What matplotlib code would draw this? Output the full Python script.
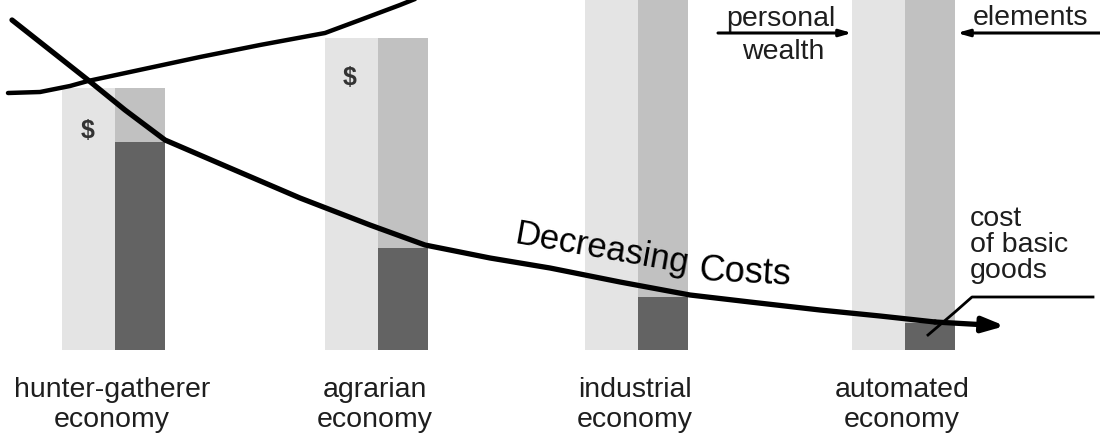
import matplotlib
matplotlib.use("Agg")
import matplotlib.pyplot as plt

plt.rcParams['font.family'] = ['Liberation Sans', 'DejaVu Sans']

# ---- data (values measured upward from the bar baseline) ----
categories = ["hunter-gatherer\neconomy", "agrarian\neconomy", "industrial\neconomy", "automated\neconomy"]
positions = [115, 378, 638, 905]
personal_wealth = [262, 312, 420, 420]      # light bar height
total_elements = [262, 312, 420, 420]       # medium bar height
basic_goods_cost = [208, 102, 53, 27]       # dark bar height

cost_x = [12, 50, 88, 125, 165, 230, 300, 370, 425, 490, 550, 620, 690, 750, 820, 880, 935]
cost_y = [330, 300, 270, 240, 210, 182, 152, 125, 105, 92, 82, 68, 55, 48, 40, 34, 28]
cost_arrow_end = (1005, 24)

rise_x = [8, 40, 70, 88, 130, 200, 260, 325, 360, 400, 425]
rise_y = [257, 258, 264, 269, 278, 293, 305, 317, 330, 345, 355]

fig = plt.figure(figsize=(11, 4.38), dpi=100)
ax = fig.add_axes([0, 0, 1, 1])
ax.set_xlim(0, 1100)
ax.set_ylim(-88, 350)
ax.axis('off')

light = '#e4e4e4'
mid = '#c1c1c1'
dark = '#636363'
txt = '#1e1e1e'
w = 50
wl = 53

for p, lw_, te, bc in zip(positions, personal_wealth, total_elements, basic_goods_cost):
    ax.bar(p - wl / 2, lw_, width=wl + 1, color=light, zorder=1)
    ax.bar(p + w / 2, te, width=w, color=mid, zorder=1)
    ax.bar(p + w / 2, bc, width=w, color=dark, zorder=2)

for p, cat in zip(positions, categories):
    ax.text(p - 3, -55, cat, ha='center', va='center', fontsize=20.5,
            color=txt, linespacing=1.22)

# dollar signs
ax.text(positions[0] - 27, 219, "$", ha='center', va='center', fontsize=18,
        fontweight='bold', color='#333333', zorder=3)
ax.text(positions[1] - 28, 272, "$", ha='center', va='center', fontsize=18,
        fontweight='bold', color='#333333', zorder=3)

# rising curve
ax.plot(rise_x, rise_y, color='black', lw=3.2, solid_capstyle='round',
        solid_joinstyle='round', zorder=4)

# decreasing costs curve
ax.plot(cost_x, cost_y, color='black', lw=3.8, solid_capstyle='round',
        solid_joinstyle='round', zorder=5)
ax.annotate("", xy=cost_arrow_end, xytext=(cost_x[-1], cost_y[-1]),
            arrowprops=dict(arrowstyle='-|>,head_length=1.3,head_width=0.45',
                            color='black', lw=3.8, shrinkA=0, shrinkB=0),
            zorder=5)

ax.text(602, 101, "Decreasing", ha='center', va='center', fontsize=25,
        rotation=-10, color='black', zorder=6)
ax.text(745, 77, "Costs", ha='center', va='center', fontsize=26,
        rotation=-3, color='black', zorder=6)

# personal wealth annotation
ax.text(781, 331, "personal", ha='center', va='center', fontsize=20.5, color=txt)
ax.text(783, 298, "wealth", ha='center', va='center', fontsize=20.5, color=txt)
ax.annotate("", xy=(852, 317), xytext=(718, 317),
            arrowprops=dict(arrowstyle='-|>,head_length=0.7,head_width=0.2',
                            color='black', lw=2.2, shrinkA=0, shrinkB=0))

# elements annotation
ax.text(1030, 332, "elements", ha='center', va='center', fontsize=20.5, color=txt)
ax.annotate("", xy=(957, 317), xytext=(1100, 317),
            arrowprops=dict(arrowstyle='-|>,head_length=0.7,head_width=0.2',
                            color='black', lw=2.2, shrinkA=0, shrinkB=0))

# cost of basic goods annotation
ax.text(970, 105, "cost\nof basic\ngoods", ha='left', va='center', fontsize=20.5,
        color=txt, linespacing=1.0)
ax.plot([1093, 972, 955, 928], [53, 53, 38, 15], color='black', lw=2.0, zorder=6)

fig.savefig("out.png", dpi=100)
